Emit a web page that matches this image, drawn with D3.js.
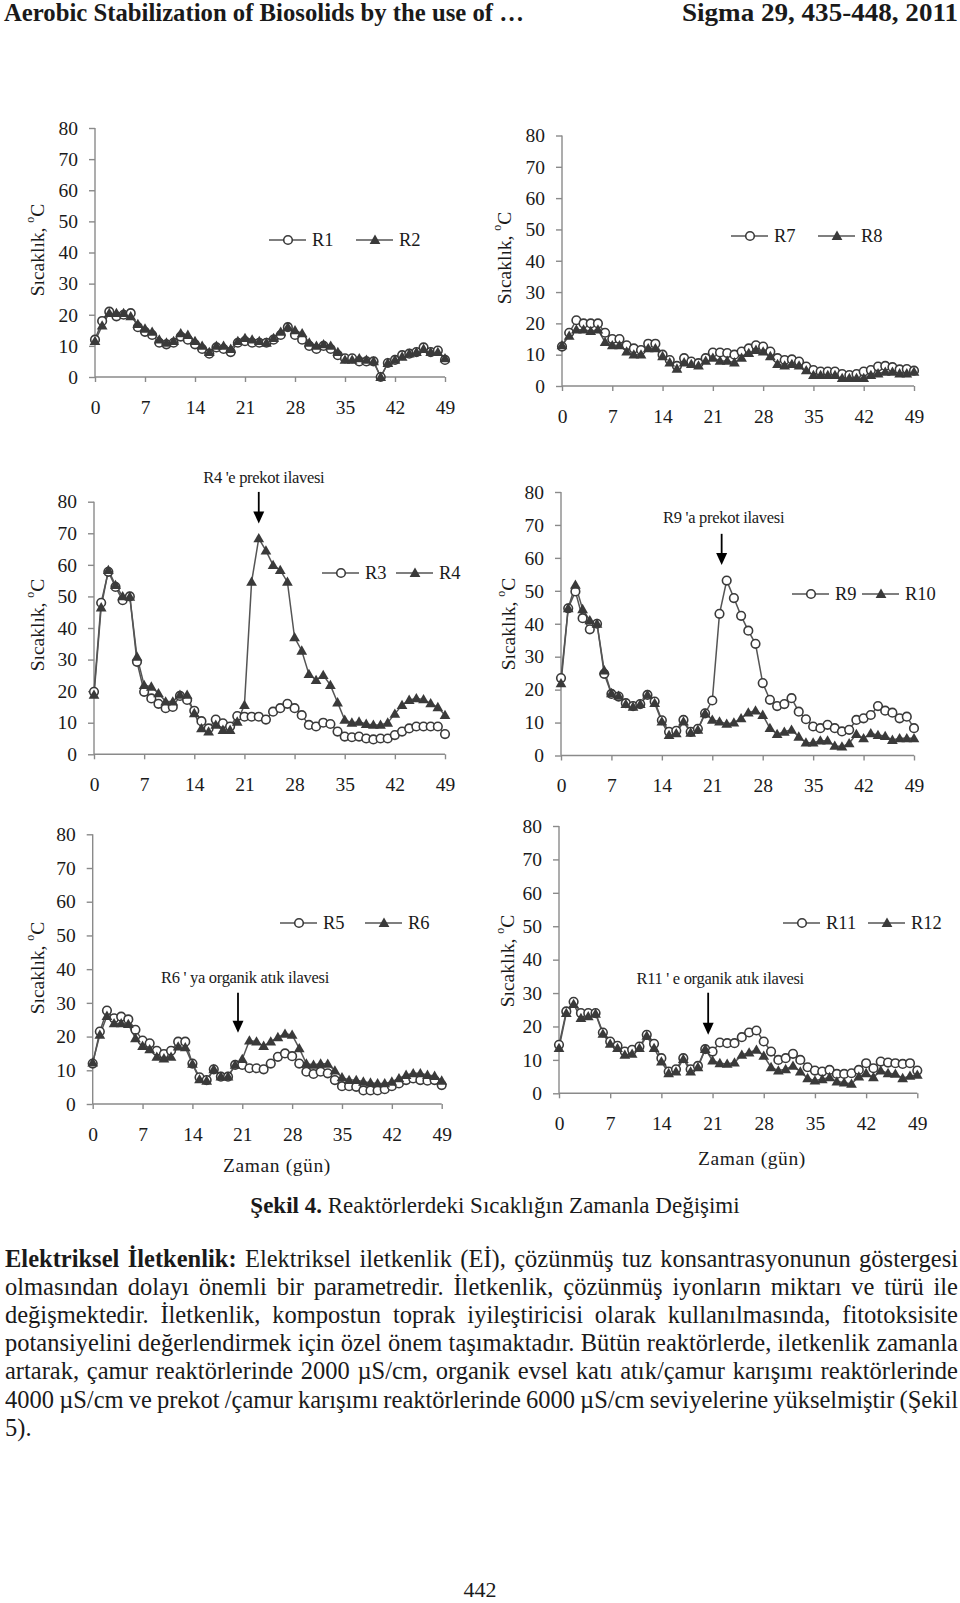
<!DOCTYPE html>
<html><head><meta charset="utf-8">
<script src="https://cdn.jsdelivr.net/npm/d3@7"></script>
<style>
body{margin:0;background:#fff}
svg{display:block}
text{font-family:"Liberation Serif","Times New Roman",serif;fill:#1a1a1a}
</style>
</head><body>
<svg id="page" width="960" height="1603"></svg>
<script>
// ---------- DATA ----------
const days = [0,1,2,3,4,5,6,7,8,9,10,11,12,13,14,15,16,17,18,19,20,21,22,23,24,25,26,27,28,29,30,31,32,33,34,35,36,37,38,39,40,41,42,43,44,45,46,47,48,49];
const xTickValues = [0,7,14,21,28,35,42,49];
const yTickValues = [0,10,20,30,40,50,60,70,80];

const r1 = [12,18,21,19.5,20,20.5,16,14.5,13.5,11, 10.5,11,13,12,10.5,9,7.5,9.5,9,8, 11,11.5,11,11,11,12,13.5,16,13.5,12, 10,9,10,9,7,6,6,5,5,5, 0,4.5,5.5,7,7.5,8,9.5,8,8.5,5.5];
const r2 = [11.5,16.5,20.5,20.5,20.5,19.5,17,15.5,14.5,12, 11,11.5,14,13.5,11.5,10,8,10,10,9, 11.5,12.5,12,11.5,11,12.5,14.5,16,15,14, 11,10,10.5,10,8,5.5,5.5,6,5.5,5, 0,4.5,5.5,6.5,7.5,8,9,8,8,6];
const r7 = [12.6,17,21,20,20,20,17,15,15,13, 12,11.5,13.5,13.5,10,8.3,6.4,8.9,7.8,7.3, 8.9,10.7,10.7,10.5,10,11,12,13,12.6,11, 8.9,8.3,8.5,7.8,6.2,5.1,4.6,4.6,4.6,3.8, 3.5,3.8,4.6,5.1,6.2,6.4,6,5.3,5.4,4.9];
const r8 = [13,16,18,18,17.5,18,14,13,13,11, 10,10,12,12,9.5,7.5,5.5,7.5,7,6.5, 8,9,8,8,7.5,9,10.5,11.5,11,9.5, 7,6.5,7,6.5,5,3.5,3.5,3.5,3.5,2.5, 2.5,2.5,2.5,3.5,4,4.5,4.5,4,4,4.5];
const r3 = [19.8,48,57.8,53,48.8,50,29.3,19.8,17.7,16, 14.6,15,18.5,17.2,13.8,10.5,8.2,11,9.8,8.8, 12.1,11.9,11.9,11.9,11,13.5,14.6,16,14.6,12.4, 9.3,8.8,10,9.6,7.2,5.6,5.4,5.6,5,4.7, 5,5,6.1,7.2,8.2,8.8,8.8,8.8,8.8,6.4];
const r4 = [18.8,46.5,58.3,53.6,50,49.9,30.9,21.9,21.4,19.3, 16.7,16.7,18.8,18.8,13,8.2,7.2,9.3,7.7,7.7, 10.3,15.6,54.6,68.4,64.5,59.9,58.3,54.6,37,32.8, 25.4,23.5,25.1,21.9,16.4,10.9,10,10.3,9.6,9.3, 9.3,10,12.8,15.6,17.2,17.7,17.4,16.1,14.9,12.4];
const r9 = [23.5,44.7,49.8,41.7,38.3,40,24.8,18.7,17.9,15.9, 15,15.6,18.4,16.4,10.7,7.2,7.5,10.8,7.2,8.1, 12.8,16.7,43,53.1,47.8,42.4,37.9,33.9,22,16.9, 15,15.6,17.4,13.3,11,8.8,8.3,9.3,8.3,7.3, 7.8,10.8,11.3,12.3,15,13.6,13,11.3,11.8,8.3];
const r10 = [21.9,44.7,51.8,44.4,41,40,25.8,18.9,18.1,15.6, 14.8,15.6,18.4,15.9,10.3,6.2,6.7,10.3,6.9,7.8, 12.8,10.8,10.3,9.6,10,11.3,13,13.6,12.3,8.3, 6.5,7.2,7.8,5.7,3.9,3.9,4.5,4.5,2.9,2.7, 3.7,6.5,5.2,6.7,6.2,5.9,4.7,5.2,5.2,5.2];
const r5 = [12,21.5,27.7,25.4,25.9,25.1,22,18.8,18,15.8, 14.8,15.8,18.5,18.5,12,7.9,7.1,10.3,8.1,8.1, 11.6,11.6,10.6,10.6,10.3,12,14,15,14.2,12, 9.6,8.9,9.6,9.1,7.1,5.3,5.3,5.1,4,4, 4,4.4,5.3,6.1,7.1,7.6,7.1,6.9,7.1,5.6];
const r6 = [12.3,20.5,26.1,23.9,23.9,23.7,19.5,17.2,16.2,14, 13.5,14,17,16.8,11.9,7.3,6.9,10.3,8.1,8.1, 11.6,13.3,18.8,18.5,17.2,18.5,19.8,20.8,20.5,16.5, 12,11.6,12,11.9,9.9,7.9,7.1,7.1,6.6,6.3, 6.1,6.1,6.6,7.6,8.6,9.1,9.1,8.6,8.3,6.9];
const r11 = [14.5,24.5,27.4,24,24,24,18.2,15.5,14.2,12.5, 13,14,17.5,14.8,10.5,6.5,7.2,10.5,7.2,8.2, 13.2,12.5,15.2,15,15,16.8,18.2,18.8,15.5,12.5, 10,10.5,11.8,10,7.8,6.8,6.5,7,5.8,5.8, 6,7,9,7.5,9.5,9.2,9,8.8,9,6.8];
const r12 = [13.5,24,26.7,22.5,23,23.8,17.8,14.8,13.5,11.5, 11.8,13.5,17.2,13.5,9.5,6,6.5,10.2,6.5,7.8, 13.2,9.8,9,8.8,9.2,11.5,12.2,13,11.2,7.8, 6.8,7.2,8.2,6.5,4.5,3.8,4.2,4.8,3.5,3.2, 2.8,5,6,4.8,6.8,6,5.8,4.5,5.2,5.5];

const annotationTexts = ["R4 'e prekot ilavesi", "R9 'a prekot ilavesi", "R6 ' ya organik atık ilavesi", "R11 ' e organik atık ilavesi"];
const annotationDays = [23, 22.3, 20.4, 20.4];

const yAxisTitle = "Sıcaklık, ";
const xAxisTitle = "Zaman (gün)";

// ---------- LAYOUT ----------
const panels = [
  {a:r1, b:r2, names:["R1","R2"], x0:95, x1:445, yT:128, y0:377, labX:37, labY:250, leg:[269,356,240]},
  {a:r7, b:r8, names:["R7","R8"], x0:562, x1:914, yT:135.5, y0:386, labX:504, labY:258, leg:[731,818,236]},
  {a:r3, b:r4, names:["R3","R4"], x0:94, x1:445, yT:501.7, y0:754.3, labX:37, labY:625, leg:[322,396,573],
     ann:{i:0, textV:87.6, topV:83.1, tipV:73.1, dx:5}},
  {a:r9, b:r10, names:["R9","R10"], x0:561, x1:914, yT:492, y0:755.5, labX:508, labY:624, leg:[792,862,594],
     ann:{i:1, textV:72.3, topV:67.3, tipV:57.8, dx:2}},
  {a:r5, b:r6, names:["R5","R6"], x0:92.7, x1:441.7, yT:834.3, y0:1104, labX:37, labY:968, leg:[280,365,923],
     ann:{i:2, textV:37.4, topV:33, tipV:21.1, dx:7}, xt:{x:277, y:1165}},
  {a:r11, b:r12, names:["R11","R12"], x0:559, x1:917.3, yT:826, y0:1093.3, labX:507, labY:961, leg:[783,868,923],
     ann:{i:3, textV:34.4, topV:30.1, tipV:17.5, dx:12}, xt:{x:752, y:1158}}
];

const svg = d3.select("#page");
const axisColor = "#8a8a8a";
const lineColor = "#555";
const markColor = "#3a3a3a";
const triangle = d3.symbol().type(d3.symbolTriangle).size(50);

panels.forEach(p => {
  const g = svg.append("g");
  const x = d3.scaleLinear().domain([0,49]).range([p.x0, p.x1]);
  const y = d3.scaleLinear().domain([0,80]).range([p.y0, p.yT]);

  const ya = g.append("g").attr("transform", `translate(${p.x0},0)`)
    .call(d3.axisLeft(y).tickValues(yTickValues).tickSize(6).tickPadding(11).tickFormat(d3.format("d")));
  const xa = g.append("g").attr("transform", `translate(0,${p.y0})`)
    .call(d3.axisBottom(x).tickValues(xTickValues).tickSize(5).tickPadding(18).tickFormat(d3.format("d")));
  [ya, xa].forEach(a => {
    a.select(".domain").attr("stroke", axisColor).attr("stroke-width", 1.4);
    a.selectAll(".tick line").attr("stroke", axisColor).attr("stroke-width", 1.4);
    a.selectAll(".tick text").attr("font-size", 19.5).attr("fill", "#1a1a1a")
      .attr("font-family", '"Liberation Serif", serif');
  });
  ya.select(".domain").attr("d", `M0,${p.y0}V${p.yT}`);
  xa.select(".domain").attr("d", `M${p.x0},0H${p.x1}`);

  const t = g.append("text")
    .attr("transform", `translate(${p.labX},${p.labY}) rotate(-90)`)
    .attr("text-anchor", "middle").attr("dominant-baseline", "central")
    .attr("font-size", 19.5);
  t.append("tspan").text(yAxisTitle);
  t.append("tspan").attr("font-size", 12).attr("dy", -7).text("o");
  t.append("tspan").attr("dy", 7).text("C");

  if (p.xt) {
    g.append("text").attr("x", p.xt.x).attr("y", p.xt.y)
      .attr("text-anchor", "middle").attr("dominant-baseline", "central")
      .attr("font-size", 19.5).attr("letter-spacing", 0.6).text(xAxisTitle);
  }

  const line = d3.line().x((d,i) => x(days[i])).y(d => y(d));

  g.append("path").datum(p.a).attr("d", line).attr("fill", "none")
    .attr("stroke", lineColor).attr("stroke-width", 1.5);
  g.append("path").datum(p.b).attr("d", line).attr("fill", "none")
    .attr("stroke", lineColor).attr("stroke-width", 1.5);

  g.append("g").selectAll("circle").data(p.a).join("circle")
    .attr("cx", (d,i) => x(days[i])).attr("cy", d => y(d)).attr("r", 4.3)
    .attr("fill", "#fff").attr("stroke", markColor).attr("stroke-width", 1.6);
  g.append("g").selectAll("path").data(p.b).join("path")
    .attr("d", triangle)
    .attr("transform", (d,i) => `translate(${x(days[i])},${y(d)+0.8})`)
    .attr("fill", markColor);

  const [l1, l2, ly] = p.leg;
  [l1, l2].forEach((lx, k) => {
    const lg = g.append("g");
    lg.append("line").attr("x1", lx).attr("x2", lx + 37).attr("y1", ly).attr("y2", ly)
      .attr("stroke", lineColor).attr("stroke-width", 1.5);
    if (k === 0) {
      lg.append("circle").attr("cx", lx + 19).attr("cy", ly).attr("r", 4.3)
        .attr("fill", "#fff").attr("stroke", markColor).attr("stroke-width", 1.6);
    } else {
      lg.append("path").attr("d", triangle).attr("transform", `translate(${lx+19},${ly+0.8})`)
        .attr("fill", markColor);
    }
    lg.append("text").attr("x", lx + 43).attr("y", ly).attr("dominant-baseline", "central")
      .attr("font-size", 18.5).text(p.names[k]);
  });

  if (p.ann) {
    const a = p.ann;
    const ax = x(annotationDays[a.i]);
    g.append("text").attr("x", ax + a.dx).attr("y", y(a.textV))
      .attr("text-anchor", "middle").attr("dominant-baseline", "central")
      .attr("font-size", 16.5).attr("letter-spacing", -0.3).text(annotationTexts[a.i]);
    const top = y(a.topV), tip = y(a.tipV);
    g.append("line").attr("x1", ax).attr("x2", ax).attr("y1", top).attr("y2", tip - 8)
      .attr("stroke", "#000").attr("stroke-width", 1.8);
    g.append("path").attr("d", `M${ax-5.5},${tip-12}L${ax+5.5},${tip-12}L${ax},${tip}Z`).attr("fill", "#000");
  }
});

// ---------- PAGE TEXT ----------
svg.append("text").attr("x", 4).attr("y", 21).attr("font-size", 25).attr("font-weight", "bold")
  .attr("textLength", 520).attr("lengthAdjust", "spacingAndGlyphs")
  .text("Aerobic Stabilization of Biosolids by the use of …");
svg.append("text").attr("x", 682).attr("y", 21).attr("font-size", 25).attr("font-weight", "bold")
  .attr("textLength", 276).attr("lengthAdjust", "spacingAndGlyphs")
  .text("Sigma 29, 435-448, 2011");

const cap = svg.append("text").attr("x", 495).attr("y", 1213).attr("text-anchor", "middle").attr("font-size", 23);
cap.append("tspan").attr("font-weight", "bold").text("Şekil 4.");
cap.append("tspan").text(" Reaktörlerdeki Sıcaklığın Zamanla Değişimi");

const paragraphLines = [
  "Elektriksel İletkenlik: Elektriksel iletkenlik (Eİ), çözünmüş tuz konsantrasyonunun göstergesi",
  "olmasından dolayı önemli bir parametredir. İletkenlik, çözünmüş iyonların miktarı ve türü ile",
  "değişmektedir. İletkenlik, kompostun toprak iyileştiricisi olarak kullanılmasında, fitotoksisite",
  "potansiyelini değerlendirmek için özel önem taşımaktadır. Bütün reaktörlerde, iletkenlik zamanla",
  "artarak, çamur reaktörlerinde 2000 µS/cm, organik evsel katı atık/çamur karışımı reaktörlerinde",
  "4000 µS/cm ve prekot /çamur karışımı reaktörlerinde 6000 µS/cm seviyelerine yükselmiştir (Şekil",
  "5)."
];
const boldWords = 2;
const pg = svg.append("g");
const fs = 24.5, lineH = 28.1, firstBase = 1267, px0 = 5, px1 = 958;
paragraphLines.forEach((ln, li) => {
  const words = ln.split(" ");
  const yb = firstBase + li * lineH;
  const nodes = words.map((w, wi) => pg.append("text").attr("y", yb).attr("font-size", fs)
    .attr("font-weight", (li === 0 && wi < boldWords) ? "bold" : "normal").text(w));
  const widths = nodes.map(n => n.node().getComputedTextLength());
  const total = d3.sum(widths);
  const justify = li < paragraphLines.length - 1;
  let gap = justify ? (px1 - px0 - total) / (words.length - 1) : fs * 0.25;
  let scale = 1;
  if (gap < 4) { gap = 4; scale = (px1 - px0 - gap * (words.length - 1)) / total; }
  let xx = px0;
  nodes.forEach((n, i) => {
    n.attr("x", xx);
    if (scale !== 1) n.attr("textLength", widths[i] * scale).attr("lengthAdjust", "spacingAndGlyphs");
    xx += widths[i] * scale + gap;
  });
});

svg.append("text").attr("x", 480).attr("y", 1597).attr("text-anchor", "middle").attr("font-size", 22).text("442");
</script>
</body></html>
